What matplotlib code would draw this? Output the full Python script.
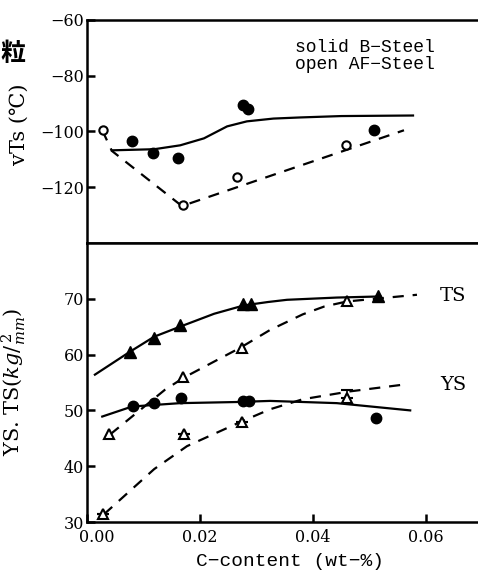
import matplotlib
matplotlib.use("Agg")
from matplotlib import pyplot as plt
from matplotlib.transforms import ScaledTranslation

plt.rcParams['font.family'] = ['DejaVu Serif']
plt.rcParams['mathtext.fontset'] = 'dejavuserif'

# --- vTs panel data ---
b_vts_x = [0.0080, 0.0117, 0.0161, 0.0276, 0.0285, 0.0508]
b_vts_y = [-103.6, -107.9, -109.6, -90.7, -92.1, -99.6]
af_vts_x = [0.0028, 0.0170, 0.0266, 0.0458]
af_vts_y = [-99.6, -126.4, -116.4, -105.0]

b_vts_curve_x = [0.0044, 0.0119, 0.0165, 0.0207, 0.0248, 0.0283, 0.0330, 0.0377, 0.0450, 0.0577]
b_vts_curve_y = [-106.8, -106.4, -105.0, -102.5, -98.2, -96.4, -95.4, -95.0, -94.5, -94.3]
af_vts_curve_x = [0.0027, 0.0044, 0.0168, 0.0561]
af_vts_curve_y = [-99.6, -107.0, -126.8, -99.6]

# --- YS / TS panel data ---
b_ts_x = [0.0076, 0.0119, 0.0165, 0.0276, 0.0290, 0.0515]
b_ts_y = [60.4, 63.0, 65.2, 69.1, 69.0, 70.4]
af_ts_x = [0.0039, 0.0170, 0.0274, 0.0460]
af_ts_y = [45.7, 55.9, 61.2, 69.6]
b_ys_x = [0.0081, 0.0119, 0.0166, 0.0276, 0.0287, 0.0511]
b_ys_y = [50.7, 51.3, 52.3, 51.6, 51.6, 48.6]
af_ys_x = [0.0028, 0.0172, 0.0274, 0.0460]
af_ys_y = [31.4, 45.7, 47.9, 52.3]
af_ys_err = [0, 0, 0, 1.3]

b_ts_curve_x = [0.0014, 0.0076, 0.0119, 0.0165, 0.0225, 0.0278, 0.0320, 0.0354, 0.0442, 0.0519]
b_ts_curve_y = [56.4, 60.5, 63.2, 65.0, 67.3, 68.8, 69.4, 69.8, 70.2, 70.4]
af_ts_curve_x = [0.0041, 0.0138, 0.0172, 0.0271, 0.0324, 0.0382, 0.0420, 0.0460, 0.0584]
af_ts_curve_y = [45.7, 53.7, 55.9, 61.2, 64.4, 67.2, 68.6, 69.5, 70.7]
b_ys_curve_x = [0.0027, 0.0080, 0.0165, 0.0265, 0.0324, 0.0442, 0.0572]
b_ys_curve_y = [48.9, 50.7, 51.3, 51.5, 51.7, 51.3, 50.0]
af_ys_curve_x = [0.0030, 0.0119, 0.0177, 0.0271, 0.0324, 0.0382, 0.0465, 0.0559]
af_ys_curve_y = [31.4, 39.5, 43.6, 47.9, 50.2, 52.0, 53.4, 54.6]

xticks = [0.00, 0.02, 0.04, 0.06]
xticklabels = ['0.00', '0.02', '0.04', '0.06']

fig = plt.figure(figsize=(4.78, 5.70), dpi=100)
ax1 = fig.add_axes([0.182, 0.574, 0.818, 0.391])
ax2 = fig.add_axes([0.182, 0.084, 0.818, 0.490])

dash = (0, (5, 4))
for ax in (ax1, ax2):
    ax.set_xlim(0, 0.0692)
    ax.spines['right'].set_visible(False)
    for s in ('left', 'top', 'bottom'):
        ax.spines[s].set_linewidth(1.8)
    ax.tick_params(direction='in', length=6, width=1.8, labelsize=11.5, pad=2)

# top panel
ax1.plot(b_vts_curve_x, b_vts_curve_y, 'k-', lw=1.6)
ax1.plot(af_vts_curve_x, af_vts_curve_y, 'k', ls=dash, lw=1.6)
ax1.plot(b_vts_x, b_vts_y, 'ko', ms=7.5)
ax1.plot(af_vts_x, af_vts_y, 'o', mfc='white', mec='k', mew=1.5, ms=6)
ax1.set_ylim(-140, -60)
ax1.set_yticks([-120, -100, -80, -60])
ax1.set_yticklabels(['\u2212120', '\u2212100', '\u221280', '\u221260'])
ax1.set_xticks([])
ax1.set_ylabel('vTs (\u2103)', fontsize=15)
ax1.text(0.532, 0.915, 'solid B\u2212Steel\nopen AF\u2212Steel', transform=ax1.transAxes,
         fontsize=13, family='Liberation Mono', va='top', linespacing=1.0)

# bottom panel
ax2.plot(b_ts_curve_x, b_ts_curve_y, 'k-', lw=1.6)
ax2.plot(af_ts_curve_x, af_ts_curve_y, 'k', ls=dash, lw=1.6)
ax2.plot(b_ys_curve_x, b_ys_curve_y, 'k-', lw=1.6)
ax2.plot(af_ys_curve_x, af_ys_curve_y, 'k', ls=dash, lw=1.6)
ax2.plot(b_ts_x, b_ts_y, 'k^', ms=8.5)
ax2.plot(af_ts_x, af_ts_y, '^', mfc='white', mec='k', mew=1.5, ms=7.5)
ax2.plot(b_ys_x, b_ys_y, 'ko', ms=7.5)
ax2.errorbar(af_ys_x, af_ys_y, yerr=[[0] * 4, af_ys_err], fmt='^', mfc='white', mec='k',
             mew=1.5, ms=7.5, ecolor='k', elinewidth=1.2, capsize=4)
ax2.set_ylim(30, 80)
ax2.set_yticks([30, 40, 50, 60, 70])
ax2.set_xticks(xticks)
ax2.set_xticklabels(xticklabels)
ax2.tick_params(axis='x', pad=5)
# first x label sits a little right of its tick, clear of the "30"
lab0 = ax2.get_xticklabels()[0]
lab0.set_transform(lab0.get_transform() + ScaledTranslation(7 / 72, 0, fig.dpi_scale_trans))
ax2.set_ylabel(r'YS. TS($kg/_{mm}^{\,2}$)', fontsize=15)
ax2.set_xlabel('C\u2212content (wt\u2212%)', fontsize=14, family='Liberation Mono', labelpad=0)
ax2.xaxis.set_label_coords(0.519, -0.11)
ax2.text(0.0625, 70.5, 'TS', fontsize=14, va='center')
ax2.text(0.0625, 54.6, 'YS', fontsize=14, va='center')

ax1.yaxis.set_label_coords(-0.15, 0.53)
ax2.yaxis.set_label_coords(-0.15, 0.5)

# cropped caption character at top-left
fig.text(0.0, 0.893, '\u7c92', fontsize=18, family=['Noto Sans CJK JP'], fontweight='bold')

fig.savefig('out.png', dpi=100)
